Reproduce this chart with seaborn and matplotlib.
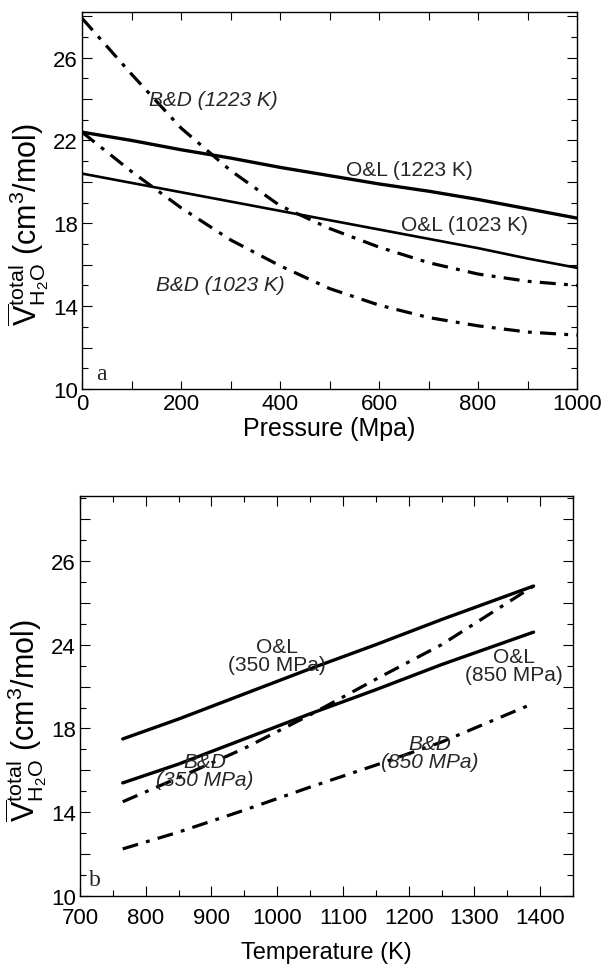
import numpy as np
import pandas as pd
import matplotlib
matplotlib.use("Agg")
import matplotlib.pyplot as plt
import matplotlib.ticker as mticker
import seaborn as sns

# panel a: partial molar volume of water vs pressure
pressure = [0, 100, 200, 300, 400, 500, 600, 700, 800, 900, 1000]
bd_1223 = [27.9, 25.2, 22.6, 20.55, 18.85, 17.75, 16.85, 16.1, 15.55, 15.2, 15.0]
bd_1023 = [22.4, 20.5, 18.75, 17.2, 15.95, 14.85, 14.05, 13.45, 13.05, 12.75, 12.6]
ol_1223 = [22.4, 22.0, 21.55, 21.15, 20.7, 20.3, 19.9, 19.55, 19.15, 18.7, 18.25]
ol_1023 = [20.4, 19.95, 19.5, 19.05, 18.6, 18.15, 17.7, 17.25, 16.8, 16.3, 15.85]

# panel b: vs temperature
temperature = [765, 850, 950, 1050, 1150, 1250, 1390]
ol_350 = [17.5, 18.45, 19.65, 20.85, 22.0, 23.2, 24.8]
ol_850 = [15.4, 16.3, 17.5, 18.7, 19.85, 21.05, 22.6]
bd_350 = [14.5, 15.65, 17.05, 18.65, 20.35, 22.0, 24.8]
bd_850 = [12.25, 13.05, 14.1, 15.2, 16.25, 17.35, 19.2]

y_ticks = [10, 14, 18, 22, 26]
y_labels_a = ['10', '14', '18', '22', '26']
y_labels_b = ['10', '14', '18', '24', '26']   # as printed in the original

sns.set_theme(style="ticks")
plt.rcParams['font.family'] = ['Liberation Sans', 'DejaVu Sans']
plt.rcParams['mathtext.fontset'] = 'custom'
plt.rcParams['mathtext.rm'] = 'Liberation Sans'
plt.rcParams['mathtext.it'] = 'Liberation Sans:italic'

DASHDOT = (0, (5, 2.6, 1.2, 2.6))
YLABEL = r"$\overline{\mathrm{V}}_{\mathrm{H_2O}}^{\mathrm{total}}$ (cm$^3$/mol)"

df_a = pd.DataFrame({'P': pressure, 'bd_1223': bd_1223, 'bd_1023': bd_1023,
                     'ol_1223': ol_1223, 'ol_1023': ol_1023})
df_b = pd.DataFrame({'T': temperature, 'ol_350': ol_350, 'ol_850': ol_850,
                     'bd_350': bd_350, 'bd_850': bd_850})


def style_axis(ax, labels, ytop):
    for s in ax.spines.values():
        s.set_color('black')
        s.set_linewidth(1.0)
    ax.set_ylim(10, ytop)
    # long ticks every 2, short every 1, text only on the labelled values
    lookup = dict(zip(y_ticks, labels))
    ax.yaxis.set_major_locator(mticker.MultipleLocator(2))
    ax.yaxis.set_major_formatter(mticker.FuncFormatter(lambda v, pos: lookup.get(int(round(v)), '')))
    ax.yaxis.set_minor_locator(mticker.MultipleLocator(1))
    ax.tick_params(which='both', direction='in', top=True, right=True,
                   color='black', labelsize=16, labelcolor='black', width=0.8)
    ax.tick_params(which='major', length=7, pad=3)
    ax.tick_params(which='minor', length=4)
    ax.set_ylabel(YLABEL, fontsize=22, color='black')
    ax.yaxis.set_label_coords(-0.062, 0.44)
    ax.grid(False)


fig = plt.figure(figsize=(6.02, 9.70), dpi=100)
ax_a = fig.add_axes([82 / 602, 1 - 390 / 970, (577 - 82) / 602, (390 - 13) / 970])
ax_b = fig.add_axes([80 / 602, 1 - 897 / 970, (573 - 80) / 602, (897 - 497) / 970])

# ---- panel a
sns.lineplot(data=df_a, x='P', y='bd_1223', ax=ax_a, color='black', lw=2.3, linestyle=DASHDOT)
sns.lineplot(data=df_a, x='P', y='bd_1023', ax=ax_a, color='black', lw=2.3, linestyle=DASHDOT)
sns.lineplot(data=df_a, x='P', y='ol_1223', ax=ax_a, color='black', lw=2.4)
sns.lineplot(data=df_a, x='P', y='ol_1023', ax=ax_a, color='black', lw=1.9)
ax_a.set_xlim(0, 1000)
ax_a.xaxis.set_major_locator(mticker.MultipleLocator(200))
ax_a.xaxis.set_minor_locator(mticker.MultipleLocator(100))
style_axis(ax_a, y_labels_a, 28.2)
ax_a.tick_params(axis='x', which='both', length=6)
ax_a.set_xlabel('Pressure (Mpa)', fontsize=18, color='black', labelpad=1)

ax_a.text(136, 24.0, 'B&D (1223 K)', fontsize=15, style='italic', va='center')
ax_a.text(534, 20.6, 'O&L (1223 K)', fontsize=15, va='center')
ax_a.text(645, 17.95, 'O&L (1023 K)', fontsize=15, va='center')
ax_a.text(149, 15.05, 'B&D (1023 K)', fontsize=15, style='italic', va='center')
ax_a.text(28, 10.75, 'a', fontsize=17, family='Liberation Serif', va='center')

# ---- panel b
sns.lineplot(data=df_b, x='T', y='ol_350', ax=ax_b, color='black', lw=2.4)
sns.lineplot(data=df_b, x='T', y='ol_850', ax=ax_b, color='black', lw=2.4)
sns.lineplot(data=df_b, x='T', y='bd_350', ax=ax_b, color='black', lw=2.3, linestyle=DASHDOT)
sns.lineplot(data=df_b, x='T', y='bd_850', ax=ax_b, color='black', lw=2.3, linestyle=DASHDOT)
ax_b.set_xlim(700, 1450)
ax_b.xaxis.set_major_locator(mticker.MultipleLocator(100))
ax_b.xaxis.set_minor_locator(mticker.MultipleLocator(50))
style_axis(ax_b, y_labels_b, 29.1)
ax_b.tick_params(axis='x', which='major', pad=8)
ax_b.set_xlabel('Temperature (K)', fontsize=17, color='black', labelpad=9)

ax_b.text(1000, 21.5, 'O&L\n(350 MPa)', fontsize=15, ha='center', va='center', linespacing=0.95)
ax_b.text(890, 16.0, 'B&D\n(350 MPa)', fontsize=15, style='italic', ha='center', va='center', linespacing=0.95)
ax_b.text(1360, 21.0, 'O&L\n(850 MPa)', fontsize=15, ha='center', va='center', linespacing=0.95)
ax_b.text(1232, 16.85, 'B&D\n(850 MPa)', fontsize=15, style='italic', ha='center', va='center', linespacing=0.95)
ax_b.text(714, 10.8, 'b', fontsize=17, family='Liberation Serif', va='center')

fig.savefig('out.png', dpi=100, facecolor='white')
